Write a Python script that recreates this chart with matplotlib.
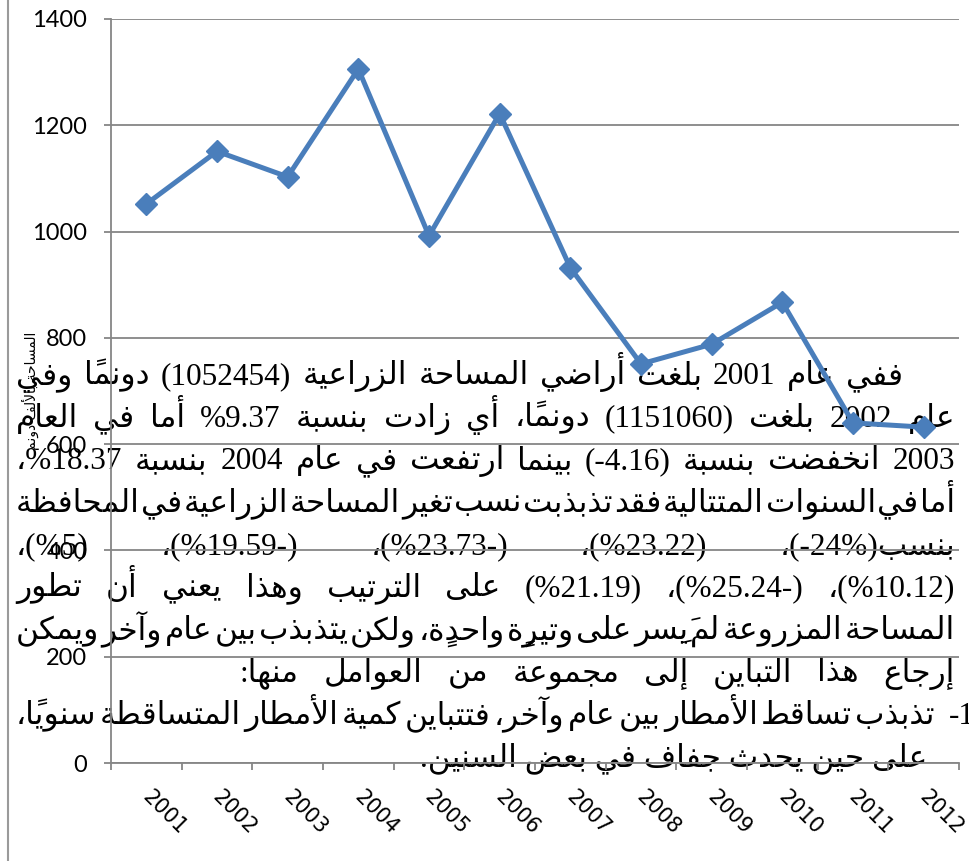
import matplotlib
matplotlib.use('Agg')
import numpy as np
import matplotlib.pyplot as plt
import matplotlib.transforms as mtransforms
from matplotlib.lines import Line2D

# chart data (thousand dunums per year)
years = ['2001', '2002', '2003', '2004', '2005', '2006',
         '2007', '2008', '2009', '2010', '2011', '2012']
area = [1052, 1151, 1103, 1306, 992, 1222, 932, 751, 788, 867, 640, 632]
y_ticks = [0, 200, 400, 600, 800, 1000, 1200, 1400]
y_title = 'المساحة بالألف دونم'

# paragraph pasted over the chart (logical order)
para = [
    'ففي عام 2001 بلغت أراضي المساحة الزراعية (1052454) دونماً وفي',
    'عام 2002 بلغت (1151060) دونماً، أي زادت بنسبة 9.37% أما في العام',
    '2003 انخفضت بنسبة (4.16-) بينما ارتفعت في عام 2004 بنسبة 18.37%،',
    'أما في السنوات المتتالية فقد تذبذبت نسب تغير المساحة الزراعية في المحافظة',
    'بنسب(%24-)، (23.22%)، (-23.73%)، (-19.59%)، (5%)،',
    '(10.12%)، (-25.24%)، (21.19%) على الترتيب وهذا يعني أن تطور',
    'المساحة المزروعة لم يَسِر على وتيرةٍ واحدةٍ، ولكن يتذبذب بين عام وآخر ويمكن',
    'إرجاع هذا التباين إلى مجموعة من العوامل منها:',
    'تذبذب تساقط الأمطار بين عام وآخر، فتتباين كمية الأمطار المتساقطة سنوياً،',
    'على حين يحدث جفاف في بعض السنين.',
]
item_no = '1-'

W, H = 969, 861

# --- tiny arabic shaper (matplotlib has no text shaping) ---
LETTERS = 'ءآأؤإئابةتثجحخدذرزسشصضطظعغفقكلمنهوىي'
COUNTS = [1, 2, 2, 2, 2, 4, 2, 4, 2, 4, 4, 4, 4, 4, 2, 2, 2, 2] + [4] * 15 + [2, 2, 4]
FORMS = {}
code = 0xFE80
for ch, n in zip(LETTERS, COUNTS):
    FORMS[ch] = (code, n)
    code += n
LAM_ALEF = {'آ': 0xFEF5, 'أ': 0xFEF7, 'إ': 0xFEF9, 'ا': 0xFEFB}
MARKS = set('\u064b\u064c\u064d\u064e\u064f\u0650\u0651\u0652')
MIRROR = {'(': ')', ')': '('}


def shape(text):
    chars = list(text)
    n = len(chars)
    out = []
    prev_joins = False
    i = 0
    while i < n:
        ch = chars[i]
        if ch in MARKS:
            if out:
                out[-1] += ch
            else:
                out.append(ch)
            i += 1
            continue
        if ch not in FORMS:
            out.append(ch)
            prev_joins = False
            i += 1
            continue
        start, cnt = FORMS[ch]
        j = i + 1
        while j < n and chars[j] in MARKS:
            j += 1
        nb = chars[j] if j < n else None
        if ch == 'ل' and nb in LAM_ALEF:
            out.append(chr(LAM_ALEF[nb] + (1 if prev_joins else 0)) + ''.join(chars[i + 1:j]))
            prev_joins = False
            i = j + 1
            continue
        joins_next = cnt == 4 and nb in FORMS and FORMS[nb][1] > 1
        joins_prev = prev_joins and cnt > 1
        if cnt == 1:
            form = 0
        elif joins_prev and joins_next:
            form = 3
        elif joins_prev:
            form = 1
        elif joins_next:
            form = 2
        else:
            form = 0
        out.append(chr(start + form))
        prev_joins = joins_next
        i += 1
    return out


def visual(text):
    cl = [MIRROR.get(c, c) for c in shape(text)[::-1]]
    res, run = [], []
    for c in cl + [None]:
        if c is not None and (c.isdigit() or (c == '.' and run)):
            run.append(c)
            continue
        tail = []
        while run and run[-1] == '.':
            tail.append(run.pop())
        res += run[::-1] + tail
        run = []
        if c is not None:
            res.append(c)
    return ''.join(res)


fig = plt.figure(figsize=(W / 100, H / 100), dpi=100)
renderer = fig.canvas.get_renderer()

ax = fig.add_axes([111 / W, 1 - 763 / H, (959 - 111) / W, (763 - 19) / H])
ax.set_zorder(2)
ax.patch.set_visible(False)

x = np.arange(len(years))
ax.plot(x, area, color='#4A7EBB', lw=3.6, marker='D', ms=11, zorder=3)
ax.set_xlim(-0.5, len(years) - 0.5)
ax.set_ylim(0, 1400)
ax.set_yticks(y_ticks)
ax.yaxis.grid(True, color='#868686', lw=1.3)
ax.set_axisbelow(True)
for s in ['top', 'right']:
    ax.spines[s].set_visible(False)
for s in ['left', 'bottom']:
    ax.spines[s].set_color('#868686')
    ax.spines[s].set_linewidth(1.3)
ax.tick_params(axis='y', length=5, color='#868686', width=1.3, pad=12,
               labelsize=17, labelfontfamily='Lato')
ax.set_xticks(x, years, rotation=-45, ha='left', va='top', fontsize=15)
ax.tick_params(axis='x', length=0, pad=17)
ax.set_xticks(np.arange(-0.5, len(years), 1), minor=True)
ax.tick_params(axis='x', which='minor', length=5, width=1.3, color='#868686')
shift = mtransforms.ScaledTranslation(-0.08, 0, fig.dpi_scale_trans)
for lab in ax.get_xticklabels():
    lab.set_transform(lab.get_transform() + shift)

fig.add_artist(Line2D([8 / W, 8 / W], [0, 1], color='#9a9a9a', lw=1.5))

fig.text(30 / W, 1 - 391 / H, visual(y_title), rotation=90, ha='center',
         va='center', fontsize=10, family='DejaVu Sans', zorder=0.5)

font = dict(fontsize=22.5, family=['Liberation Serif', 'DejaVu Sans'], zorder=1)


def put_line(text, y, x_right, x_left=None):
    vis = visual(text)
    if x_left is None:
        fig.text(x_right / W, 1 - y / H, vis, ha='right', va='baseline', **font)
        return
    words = [w for w in vis.split(' ') if w]
    arts = [fig.text(0, 1 - y / H, w, ha='left', va='baseline', **font) for w in words]
    widths = [a.get_window_extent(renderer).width for a in arts]
    gap = (x_right - x_left - sum(widths)) / (len(words) - 1)
    pos = x_left
    for a, w in zip(arts, widths):
        a.set_x(pos / W)
        pos += w + gap


baselines = [384, 426.5, 469, 511.5, 554, 596.5, 639, 681.5, 724, 766]
left = 16
put_line(para[0], baselines[0], 903, left)
for k in range(1, 7):
    put_line(para[k], baselines[k], 955, left)
put_line(para[7], baselines[7], 955, 240)
put_line(para[8], baselines[8], 935, left)
put_line(item_no, baselines[8], 975)
put_line(para[9], baselines[9], 927)

fig.savefig('out.png', dpi=100)
